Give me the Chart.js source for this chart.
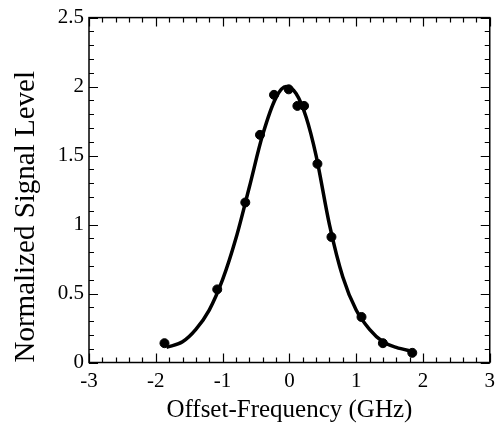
<!DOCTYPE html>
<html>
<head>
<meta charset="utf-8">
<script src="https://cdn.jsdelivr.net/npm/chart.js@4.4.1/dist/chart.umd.min.js"></script>
<style>
  html, body { margin: 0; padding: 0; background: #fff; }
  #wrap { width: 501px; height: 427px; }
</style>
</head>
<body>
<div id="wrap"><canvas id="chart"></canvas></div>
<script>
// Measured points (dots)
const dataX = [-1.87, -1.08, -0.66, -0.44, -0.23, -0.01, 0.12, 0.22, 0.42, 0.63, 1.08, 1.40, 1.84];
const dataY = [0.14, 0.53, 1.16, 1.65, 1.94, 1.98, 1.86, 1.86, 1.44, 0.91, 0.33, 0.14, 0.07];

// Fitted curve
const fitX = [-1.84, -1.6, -1.4, -1.2, -1.0, -0.8, -0.6, -0.4, -0.2, -0.05, 0.1, 0.25, 0.4, 0.6, 0.8, 1.0, 1.2, 1.4, 1.6, 1.85];
const fitY = [0.11, 0.15, 0.24, 0.38, 0.60, 0.90, 1.27, 1.65, 1.92, 2.00, 1.95, 1.78, 1.50, 1.00, 0.62, 0.38, 0.24, 0.15, 0.11, 0.08];

// Axis tick labels
const xTicks = [-3, -2, -1, 0, 1, 2, 3];
const yTicks = [0, 0.5, 1, 1.5, 2, 2.5];

const serif = 'Liberation Serif';

// box with inward ticks on all four sides
const frameTicks = {
    id: 'frameTicks',
    afterDraw(chart) {
        const {ctx, chartArea: {left, right, top, bottom}} = chart;
        const xs = chart.scales.x, ys = chart.scales.y;
        ctx.save();
        ctx.strokeStyle = '#000';
        ctx.lineWidth = 1.5;
        ctx.strokeRect(left, top, right - left, bottom - top);
        ctx.lineWidth = 1.2;
        ctx.beginPath();
        // x ticks every 0.2, major on integers
        for (let i = -15; i <= 15; i++) {
            const px = Math.round(xs.getPixelForValue(i / 5)) + 0.5;
            const len = (i % 5 === 0) ? 9 : 5;
            ctx.moveTo(px, bottom); ctx.lineTo(px, bottom - len);
            ctx.moveTo(px, top); ctx.lineTo(px, top + len);
        }
        // y ticks every 0.1, major on 0.5
        for (let j = 0; j <= 25; j++) {
            const py = Math.round(ys.getPixelForValue(j / 10)) + 0.5;
            const len = (j % 5 === 0) ? 9 : 5;
            ctx.moveTo(left, py); ctx.lineTo(left + len, py);
            ctx.moveTo(right, py); ctx.lineTo(right - len, py);
        }
        ctx.stroke();
        ctx.restore();
    }
};

new Chart(document.getElementById('chart').getContext('2d'), {
    type: 'scatter',
    data: {
        datasets: [
            {
                data: fitX.map((x, i) => ({x: x, y: fitY[i]})),
                showLine: true,
                borderColor: '#000',
                borderWidth: 3.5,
                pointRadius: 0,
                cubicInterpolationMode: 'monotone'
            },
            {
                data: dataX.map((x, i) => ({x: x, y: dataY[i]})),
                backgroundColor: '#000',
                borderColor: '#000',
                pointRadius: 4.5
            }
        ]
    },
    options: {
        responsive: true,
        maintainAspectRatio: false,
        animation: false,
        layout: { padding: { top: 15, right: 9, left: 0, bottom: 0 } },
        plugins: { legend: { display: false }, tooltip: { enabled: false } },
        scales: {
            x: {
                type: 'linear',
                min: -3, max: 3,
                afterBuildTicks: s => { s.ticks = xTicks.map(v => ({value: v})); },
                afterFit: s => { s.height = 64.5; },
                grid: { display: false, drawTicks: false },
                border: { display: false },
                ticks: {
                    color: '#000', padding: 6, maxRotation: 0,
                    font: { family: serif, size: 21 },
                    callback: v => String(v)
                },
                title: {
                    display: true,
                    text: 'Offset-Frequency (GHz)',
                    color: '#000',
                    font: { family: serif, size: 25 },
                    padding: { top: 0, bottom: 2 }
                }
            },
            y: {
                type: 'linear',
                min: 0, max: 2.5,
                afterBuildTicks: s => { s.ticks = yTicks.map(v => ({value: v})); },
                afterFit: s => { s.width = 89; },
                grid: { display: false, drawTicks: false },
                border: { display: false },
                ticks: {
                    color: '#000', padding: 5,
                    font: { family: serif, size: 21 },
                    callback: v => String(v)
                },
                title: {
                    display: true,
                    text: 'Normalized Signal Level',
                    align: 'start',
                    color: '#000',
                    font: { family: serif, size: 29 },
                    padding: { top: 9, bottom: 0 }
                }
            }
        }
    },
    plugins: [frameTicks]
});
</script>
</body>
</html>
